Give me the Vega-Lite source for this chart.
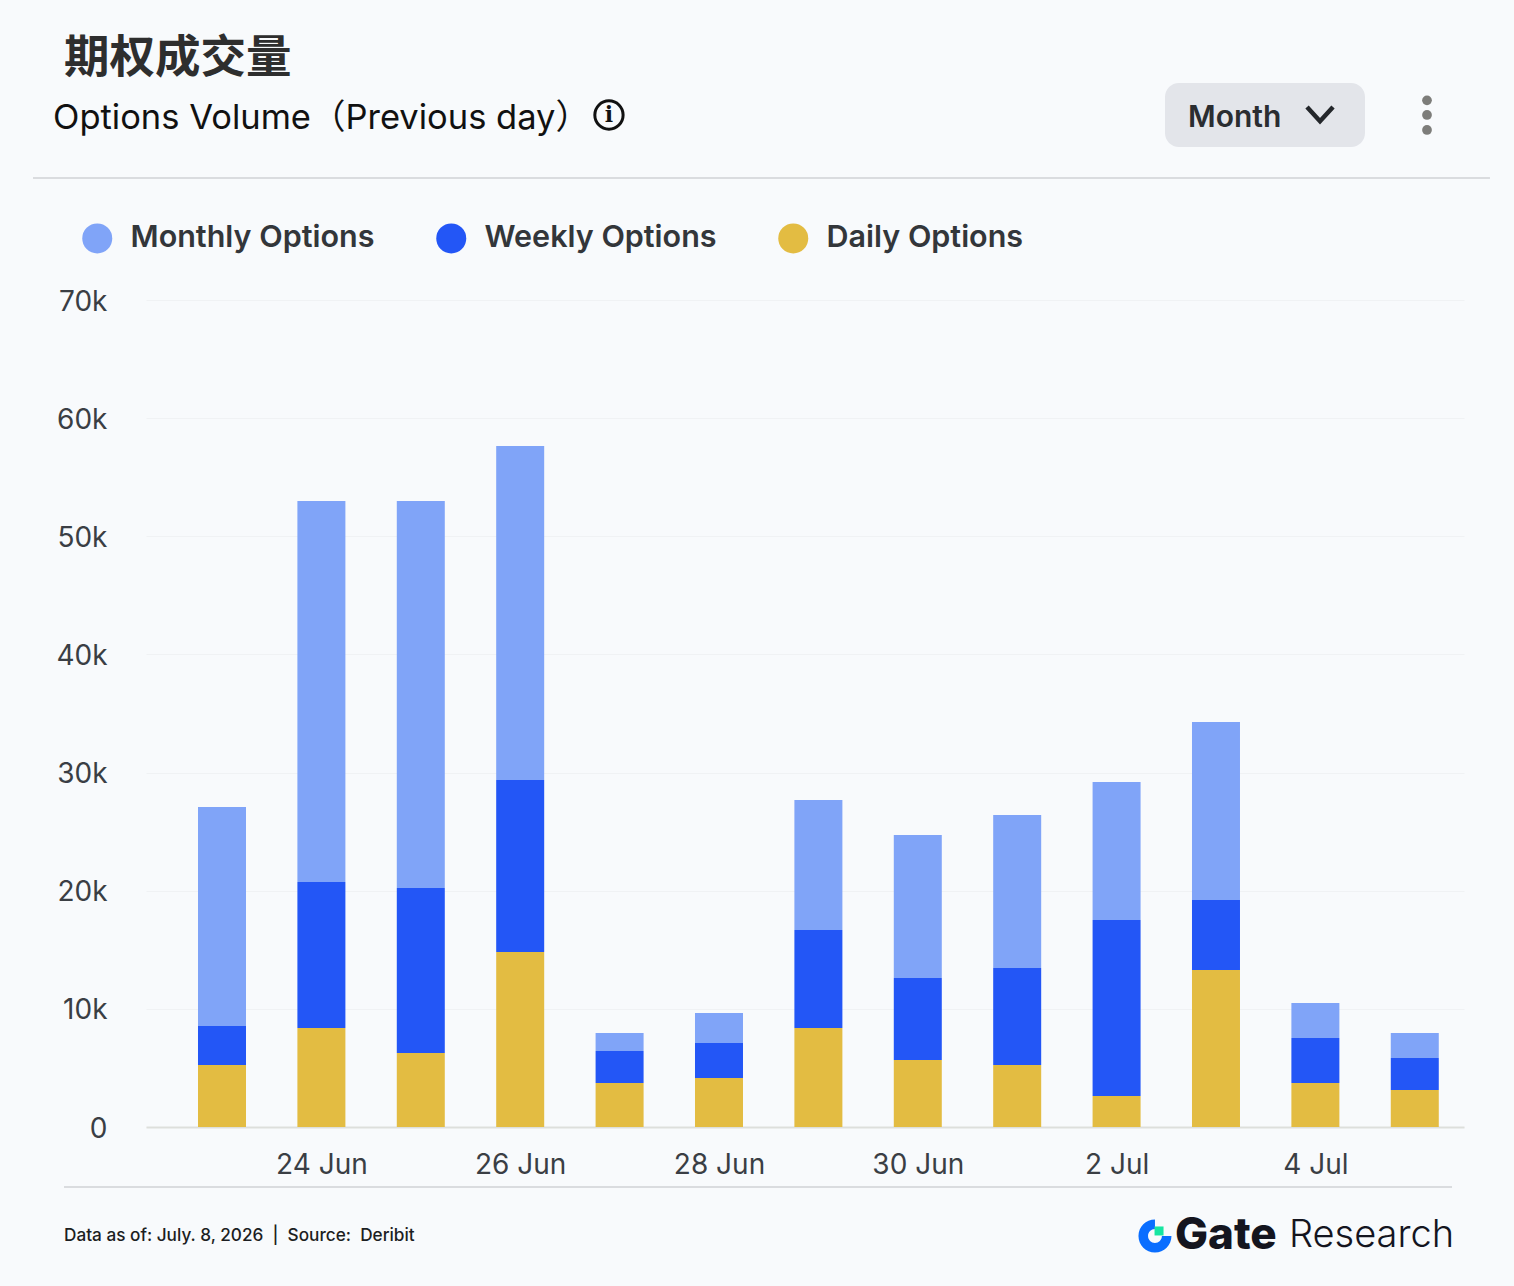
{
  "$schema": "https://vega.github.io/schema/vega-lite/v6.json",
  "width": 1318,
  "height": 827,
  "autosize": "none",
  "padding": {"left": 146, "top": 300, "right": 50, "bottom": 159},
  "background": "#F8FAFC",
  "title": {
    "text": "期权成交量",
    "anchor": "start",
    "frame": "group",
    "dx": -82,
    "offset": 1,
    "font": "Noto Sans CJK SC",
    "fontSize": 45.5,
    "fontWeight": 700,
    "color": "#2E2E2E"
  },
  "datasets": {
    "volumes": [
      {"date": "2026-06-23T00:00:00Z", "type": "Daily Options", "rank": 1, "volume": 5250},
      {"date": "2026-06-23T00:00:00Z", "type": "Weekly Options", "rank": 2, "volume": 3300},
      {"date": "2026-06-23T00:00:00Z", "type": "Monthly Options", "rank": 3, "volume": 18540},
      {"date": "2026-06-24T00:00:00Z", "type": "Daily Options", "rank": 1, "volume": 8380},
      {"date": "2026-06-24T00:00:00Z", "type": "Weekly Options", "rank": 2, "volume": 12360},
      {"date": "2026-06-24T00:00:00Z", "type": "Monthly Options", "rank": 3, "volume": 32250},
      {"date": "2026-06-25T00:00:00Z", "type": "Daily Options", "rank": 1, "volume": 6260},
      {"date": "2026-06-25T00:00:00Z", "type": "Weekly Options", "rank": 2, "volume": 13970},
      {"date": "2026-06-25T00:00:00Z", "type": "Monthly Options", "rank": 3, "volume": 32760},
      {"date": "2026-06-26T00:00:00Z", "type": "Daily Options", "rank": 1, "volume": 14810},
      {"date": "2026-06-26T00:00:00Z", "type": "Weekly Options", "rank": 2, "volume": 14560},
      {"date": "2026-06-26T00:00:00Z", "type": "Monthly Options", "rank": 3, "volume": 28270},
      {"date": "2026-06-27T00:00:00Z", "type": "Daily Options", "rank": 1, "volume": 3720},
      {"date": "2026-06-27T00:00:00Z", "type": "Weekly Options", "rank": 2, "volume": 2710},
      {"date": "2026-06-27T00:00:00Z", "type": "Monthly Options", "rank": 3, "volume": 1520},
      {"date": "2026-06-28T00:00:00Z", "type": "Daily Options", "rank": 1, "volume": 4150},
      {"date": "2026-06-28T00:00:00Z", "type": "Weekly Options", "rank": 2, "volume": 2960},
      {"date": "2026-06-28T00:00:00Z", "type": "Monthly Options", "rank": 3, "volume": 2540},
      {"date": "2026-06-29T00:00:00Z", "type": "Daily Options", "rank": 1, "volume": 8380},
      {"date": "2026-06-29T00:00:00Z", "type": "Weekly Options", "rank": 2, "volume": 8300},
      {"date": "2026-06-29T00:00:00Z", "type": "Monthly Options", "rank": 3, "volume": 11000},
      {"date": "2026-06-30T00:00:00Z", "type": "Daily Options", "rank": 1, "volume": 5670},
      {"date": "2026-06-30T00:00:00Z", "type": "Weekly Options", "rank": 2, "volume": 6940},
      {"date": "2026-06-30T00:00:00Z", "type": "Monthly Options", "rank": 3, "volume": 12100},
      {"date": "2026-07-01T00:00:00Z", "type": "Daily Options", "rank": 1, "volume": 5250},
      {"date": "2026-07-01T00:00:00Z", "type": "Weekly Options", "rank": 2, "volume": 8210},
      {"date": "2026-07-01T00:00:00Z", "type": "Monthly Options", "rank": 3, "volume": 12950},
      {"date": "2026-07-02T00:00:00Z", "type": "Daily Options", "rank": 1, "volume": 2620},
      {"date": "2026-07-02T00:00:00Z", "type": "Weekly Options", "rank": 2, "volume": 14900},
      {"date": "2026-07-02T00:00:00Z", "type": "Monthly Options", "rank": 3, "volume": 11680},
      {"date": "2026-07-03T00:00:00Z", "type": "Daily Options", "rank": 1, "volume": 13290},
      {"date": "2026-07-03T00:00:00Z", "type": "Weekly Options", "rank": 2, "volume": 5930},
      {"date": "2026-07-03T00:00:00Z", "type": "Monthly Options", "rank": 3, "volume": 15060},
      {"date": "2026-07-04T00:00:00Z", "type": "Daily Options", "rank": 1, "volume": 3720},
      {"date": "2026-07-04T00:00:00Z", "type": "Weekly Options", "rank": 2, "volume": 3810},
      {"date": "2026-07-04T00:00:00Z", "type": "Monthly Options", "rank": 3, "volume": 2960},
      {"date": "2026-07-05T00:00:00Z", "type": "Daily Options", "rank": 1, "volume": 3130},
      {"date": "2026-07-05T00:00:00Z", "type": "Weekly Options", "rank": 2, "volume": 2710},
      {"date": "2026-07-05T00:00:00Z", "type": "Monthly Options", "rank": 3, "volume": 2120}
    ]
  },
  "layer": [
    {
      "data": {"name": "volumes"},
      "mark": {"type": "bar", "size": 48},
      "encoding": {
        "x": {
          "field": "date",
          "type": "temporal",
          "title": null,
          "scale": {"type": "utc", "padding": 0, "domain": ["2026-06-22T05:39:00Z", "2026-07-05T11:53:00Z"]},
          "axis": {
            "values": ["2026-06-24T00:00:00Z", "2026-06-26T00:00:00Z", "2026-06-28T00:00:00Z", "2026-06-30T00:00:00Z", "2026-07-02T00:00:00Z", "2026-07-04T00:00:00Z"],
            "format": "%-d %b",
            "grid": false,
            "ticks": false,
            "labelPadding": 24,
            "labelFlush": false,
            "labelOverlap": false,
            "domainColor": "#DDDFDC",
            "domainWidth": 2
          }
        },
        "y": {
          "field": "volume",
          "type": "quantitative",
          "aggregate": "sum",
          "stack": "zero",
          "title": null,
          "scale": {"domain": [0, 70000]},
          "axis": {
            "values": [0, 10000, 20000, 30000, 40000, 50000, 60000, 70000],
            "labelExpr": "datum.value / 1000 + (datum.value ? 'k' : '')",
            "domain": false,
            "ticks": false,
            "labelPadding": 39,
            "labelOffset": 2,
            "gridColor": "#F0F2F4",
            "gridWidth": 1
          }
        },
        "color": {
          "field": "type",
          "type": "nominal",
          "scale": {
            "domain": ["Monthly Options", "Weekly Options", "Daily Options"],
            "range": ["#80A4F8", "#2356F6", "#E3BC42"]
          },
          "legend": {
            "title": null,
            "orient": "none",
            "direction": "horizontal",
            "legendX": -64,
            "legendY": -77,
            "symbolType": "circle",
            "symbolSize": 900,
            "symbolStrokeWidth": 0,
            "labelFont": "Inter",
            "labelFontSize": 30.5,
            "labelFontWeight": 600,
            "labelColor": "#33363A",
            "labelOffset": 18,
            "labelLimit": 400,
            "columnPadding": 61,
            "symbolLimit": 3
          }
        },
        "order": {"field": "rank", "type": "quantitative"}
      }
    },
    {
      "data": {"values": [
        {"start": "2026-06-21T02:22:00Z", "end": "2026-07-05T18:09:00Z", "level": 80320},
        {"start": "2026-06-21T09:51:00Z", "end": "2026-07-05T08:59:00Z", "level": -5080}
      ]},
      "mark": {"type": "rule", "color": "#DADCDF", "strokeWidth": 2},
      "encoding": {
        "x": {"field": "start", "type": "temporal"},
        "x2": {"field": "end"},
        "y": {"field": "level", "type": "quantitative"}
      }
    },
    {
      "data": {"values": [{"start": "2026-07-02T11:41:00Z", "end": "2026-07-04T11:59:00Z", "low": 82950, "high": 88360}]},
      "mark": {"type": "rect", "color": "#E3E5EA", "cornerRadius": 14},
      "encoding": {
        "x": {"field": "start", "type": "temporal"},
        "x2": {"field": "end"},
        "y": {"field": "low", "type": "quantitative"},
        "y2": {"field": "high"}
      }
    },
    {
      "data": {"values": [{"date": "2026-06-21T07:12:00Z", "level": 85320, "label": "Options Volume（Previous day）"}]},
      "mark": {"type": "text", "align": "left", "baseline": "middle", "font": "Inter, Noto Sans CJK SC", "fontSize": 34.5, "fontWeight": 400, "color": "#111111"},
      "encoding": {
        "x": {"field": "date", "type": "temporal"},
        "y": {"field": "level", "type": "quantitative"},
        "text": {"field": "label"}
      }
    },
    {
      "data": {"values": [{"date": "2026-06-26T21:26:00Z", "level": 85660}]},
      "mark": {"type": "point", "shape": "circle", "size": 800, "filled": false, "stroke": "#111111", "strokeWidth": 3, "opacity": 1},
      "encoding": {
        "x": {"field": "date", "type": "temporal"},
        "y": {"field": "level", "type": "quantitative"}
      }
    },
    {
      "data": {"values": [{"date": "2026-06-26T21:26:00Z", "level": 85660, "label": "i"}]},
      "mark": {"type": "text", "align": "center", "baseline": "middle", "font": "DejaVu Serif", "fontSize": 22, "fontWeight": 700, "color": "#111111"},
      "encoding": {
        "x": {"field": "date", "type": "temporal"},
        "y": {"field": "level", "type": "quantitative"},
        "text": {"field": "label"}
      }
    },
    {
      "data": {"values": [{"date": "2026-07-02T17:14:00Z", "level": 85400, "label": "Month"}]},
      "mark": {"type": "text", "align": "left", "baseline": "middle", "font": "Inter", "fontSize": 30, "fontWeight": 600, "color": "#2A2D31"},
      "encoding": {
        "x": {"field": "date", "type": "temporal"},
        "y": {"field": "level", "type": "quantitative"},
        "text": {"field": "label"}
      }
    },
    {
      "data": {"values": [{"date": "2026-07-04T01:07:00Z", "level": 85740}]},
      "mark": {"type": "point", "shape": "M-1,-0.55L0,0.55L1,-0.55", "size": 676, "filled": false, "stroke": "#24272B", "strokeWidth": 4.5, "opacity": 1},
      "encoding": {
        "x": {"field": "date", "type": "temporal"},
        "y": {"field": "level", "type": "quantitative"}
      }
    },
    {
      "data": {"values": [
        {"date": "2026-07-05T02:57:00Z", "level": 86900},
        {"date": "2026-07-05T02:57:00Z", "level": 85660},
        {"date": "2026-07-05T02:57:00Z", "level": 84390}
      ]},
      "mark": {"type": "point", "shape": "circle", "size": 95, "filled": true, "color": "#7D7D7A", "opacity": 1},
      "encoding": {
        "x": {"field": "date", "type": "temporal"},
        "y": {"field": "level", "type": "quantitative"}
      }
    },
    {
      "data": {"values": [{"date": "2026-06-21T09:51:00Z", "level": -9230, "label": "Data as of: July. 8, 2026\u00a0\u00a0|\u00a0\u00a0Source:\u00a0\u00a0Deribit"}]},
      "mark": {"type": "text", "align": "left", "baseline": "middle", "font": "Inter", "fontSize": 17.2, "fontWeight": 500, "color": "#1C1E22"},
      "encoding": {
        "x": {"field": "date", "type": "temporal"},
        "y": {"field": "level", "type": "quantitative"},
        "text": {"field": "label"}
      }
    },
    {
      "data": {"values": [{"date": "2026-07-02T09:16:00Z", "level": -9230}]},
      "mark": {"type": "point", "shape": "M0,-1A1,1 0 1 0 1,0L0.42,0A0.42,0.42 0 1 1 0,-0.42Z", "size": 1089, "filled": true, "color": "#0A6EFF", "opacity": 1},
      "encoding": {
        "x": {"field": "date", "type": "temporal"},
        "y": {"field": "level", "type": "quantitative"}
      }
    },
    {
      "data": {"values": [{"date": "2026-07-02T10:15:00Z", "level": -8800}]},
      "mark": {"type": "point", "shape": "square", "size": 81, "filled": true, "color": "#17E6A1", "opacity": 1},
      "encoding": {
        "x": {"field": "date", "type": "temporal"},
        "y": {"field": "level", "type": "quantitative"}
      }
    },
    {
      "data": {"values": [{"date": "2026-07-02T14:06:00Z", "level": -9230, "label": "Gate"}]},
      "mark": {"type": "text", "align": "left", "baseline": "middle", "font": "Inter", "fontSize": 44, "fontWeight": 800, "color": "#14151F"},
      "encoding": {
        "x": {"field": "date", "type": "temporal"},
        "y": {"field": "level", "type": "quantitative"},
        "text": {"field": "label"}
      }
    },
    {
      "data": {"values": [{"date": "2026-07-03T17:37:00Z", "level": -9230, "label": "Research"}]},
      "mark": {"type": "text", "align": "left", "baseline": "middle", "font": "Inter", "fontSize": 38, "fontWeight": 300, "color": "#14151F"},
      "encoding": {
        "x": {"field": "date", "type": "temporal"},
        "y": {"field": "level", "type": "quantitative"},
        "text": {"field": "label"}
      }
    }
  ],
  "config": {
    "view": {"stroke": null},
    "axis": {
      "labelFont": "Inter",
      "labelFontSize": 28,
      "labelColor": "#3A3E44"
    }
  }
}
